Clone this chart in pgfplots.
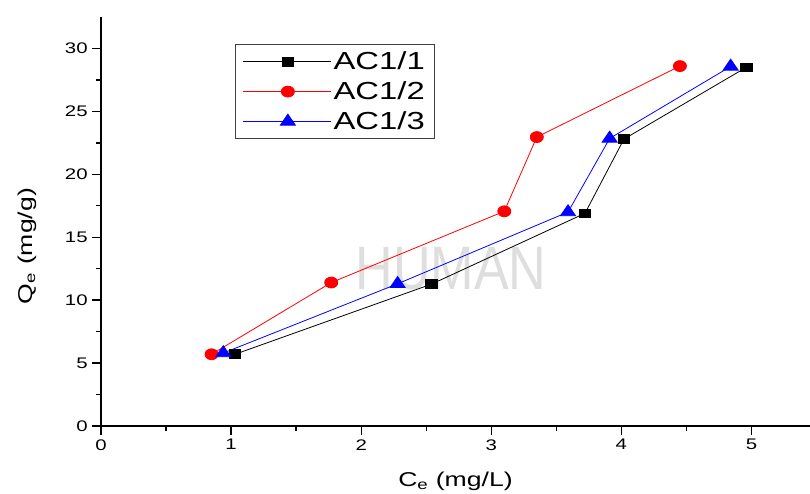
\documentclass[border=0pt]{standalone}
\usepackage{fontspec}
\setmainfont[FakeStretch=1.33]{Liberation Sans}
\newfontfamily\wmfont[FakeStretch=0.85]{Liberation Sans}
\usepackage{pgfplots}
\pgfplotsset{compat=1.18}
\begin{document}
\begin{tikzpicture}
\path[use as bounding box] (-75.75pt,-50.25pt) rectangle (531.75pt,319.5pt);
\begin{axis}[
  at={(0,0)}, anchor=south west,
  scale only axis, width=531.75pt, height=306.75pt,
  xmin=0, xmax=5.45, ymin=0, ymax=32.5,
  axis x line*=bottom, axis y line*=left,
  axis line style={line width=1pt,-},
  xtick={0,1,2,3,4,5}, ytick={0,5,10,15,20,25,30},
  minor x tick num=1, minor y tick num=1,
  tick align=outside, major tick length=6.5pt, minor tick length=3.5pt,
  every tick/.style={line width=1pt, black},
  every minor tick/.style={line width=1pt, black},
  ticklabel style={font=\fontsize{11.5}{13}\selectfont},
  /pgf/number format/assume math mode=true,
  xlabel={C\textsubscript{e} (mg/L)},
  ylabel={Q\textsubscript{e} (mg/g)},
  label style={font=\fontsize{15}{17}\selectfont},
  xlabel style={at={(axis description cs:0.5,0)}, anchor=north, yshift=-31pt},
  ylabel style={at={(axis description cs:0,0.44)}, anchor=south, yshift=45pt},
  clip=false,
  legend style={at={(rel axis cs:0.189,0.934)}, anchor=north west,
    draw=black!75, line width=0.7pt, font=\fontsize{18.5}{21}\selectfont,
    inner xsep=5pt, inner ysep=3.5pt, row sep=3.5pt},
  legend cell align=left,
  legend image code/.code={\path (0pt,0pt) -- (66pt,0pt); \draw[mark repeat=2,mark phase=2,#1] plot coordinates {(7pt,0pt) (34pt,0pt) (61pt,0pt)};},
]
\node[text=black!13, font=\wmfont\fontsize{46}{50}\selectfont, anchor=center] at (axis cs:2.69,12.5) {HUMAN};
\addplot[black, line width=0.6pt, mark=square*, mark size=3.3pt, mark options={solid, fill=black, xscale=1.3}]
  coordinates {(1.03,5.7) (2.54,11.27) (3.72,16.9) (4.02,22.8) (4.96,28.5)};
\addlegendentry{AC1/1}
\addplot[red, line width=0.6pt, mark=*, mark size=4.1pt, mark options={solid, fill=red, xscale=1.2}]
  coordinates {(0.85,5.7) (1.77,11.4) (3.10,17.06) (3.35,22.96) (4.45,28.6)};
\addlegendentry{AC1/2}
\addplot[blue, line width=0.6pt, mark=triangle*, mark size=5.5pt, mark options={solid, fill=blue, xscale=1.18}]
  coordinates {(0.94,5.8) (2.28,11.3) (3.59,17.0) (3.91,22.85) (4.84,28.57)};
\addlegendentry{AC1/3}
\end{axis}
\end{tikzpicture}
\end{document}
